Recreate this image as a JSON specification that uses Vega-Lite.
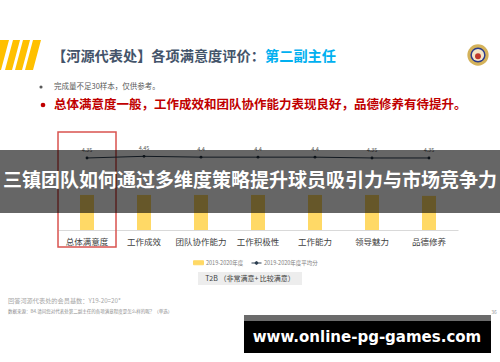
{
  "$schema": "https://vega.github.io/schema/vega-lite/v6.json",
  "width": 400,
  "height": 100,
  "autosize": {"type": "none"},
  "padding": {"left": 58, "top": 130, "right": 42, "bottom": 132},
  "background": "white",
  "config": {"view": {"stroke": null}, "font": "Noto Sans CJK SC", "text": {"font": "Noto Sans CJK SC"}, "axisY": {"disable": true}},
  "datasets": {
    "scores": [
      {"category": "总体满意度", "t2b": 0.75, "avg": 4.35},
      {"category": "工作成效", "t2b": 0.75, "avg": 4.45},
      {"category": "团队协作能力", "t2b": 0.75, "avg": 4.4},
      {"category": "工作积极性", "t2b": 0.75, "avg": 4.4},
      {"category": "工作能力", "t2b": 0.75, "avg": 4.4},
      {"category": "领导魅力", "t2b": 0.75, "avg": 4.35},
      {"category": "品德修养", "t2b": 0.73, "avg": 4.35}
    ]
  },
  "resolve": {"scale": {"y": "independent"}},
  "layer": [
    {
      "layer": [
        {
          "data": {"name": "scores"},
          "mark": {"type": "bar"},
          "encoding": {
            "x": {
              "field": "category", "type": "nominal", "sort": null,
              "scale": {"paddingInner": 0.754, "paddingOuter": 0.386},
              "axis": {"title": null, "labelFontSize": 8.5, "labelColor": "#404040", "labelPadding": 7, "ticks": false, "domainColor": "#d9d9d9", "labelAngle": 0, "labelFont": "Noto Sans CJK SC"}
            },
            "y": {"field": "t2b", "type": "quantitative", "scale": {"domain": [0, 2.14], "nice": false, "zero": false}, "axis": null},
            "color": {
              "datum": "2019-2020年度",
              "scale": {"domain": ["2019-2020年度", "2019-2020年度平均分"], "range": ["#ffd966", "#2c3e50"]},
              "legend": {
                "orient": "none", "legendX": 135, "legendY": 127, "direction": "horizontal", "title": null,
                "labelFontSize": 5.5, "labelColor": "#808080", "labelFont": "Noto Sans CJK SC", "symbolSize": 100, "columnPadding": 5, "labelOffset": 2,
                "encode": {"symbols": {"update": {
                  "shape": {"signal": "datum.value === '2019-2020年度' ? 'M-1,-0.4H1V0.4H-1Z' : 'M-1,0H1M-0.28,0A0.28,0.28,0,1,0,0.28,0A0.28,0.28,0,1,0,-0.28,0Z'"},
                  "fill": {"signal": "datum.value === '2019-2020年度' ? '#ffd966' : '#2c3e50'"},
                  "stroke": {"signal": "datum.value === '2019-2020年度' ? 'transparent' : '#2c3e50'"},
                  "strokeWidth": {"value": 1},
                  "opacity": {"value": 1},
                  "fillOpacity": {"value": 1},
                  "strokeOpacity": {"value": 1}
                }}}
              }
            }
          }
        },
        {
          "data": {"values": [{"category": "总体满意度"}]},
          "mark": {"type": "bar", "width": 58, "fill": "transparent", "stroke": "#d9534f", "strokeWidth": 1.5},
          "encoding": {
            "x": {"field": "category", "type": "nominal", "sort": null},
            "y": {"datum": 2.097},
            "y2": {"datum": -0.364}
          }
        }
      ]
    },
    {
      "data": {"name": "scores"},
      "encoding": {
        "x": {"field": "category", "type": "nominal", "sort": null},
        "y": {"field": "avg", "type": "quantitative", "scale": {"domain": [0, 6.04], "nice": false, "zero": false}, "axis": null}
      },
      "layer": [
        {"mark": {"type": "line", "strokeWidth": 1}, "encoding": {"color": {"datum": "2019-2020年度平均分"}}},
        {"mark": {"type": "point", "filled": true, "size": 8, "color": "#1f2d3d", "opacity": 1}},
        {"mark": {"type": "text", "dy": -8, "fontSize": 5.5, "color": "#595959"}, "encoding": {"text": {"field": "avg", "type": "quantitative", "format": ".2~f"}}}
      ]
    },
    {
      "layer": [
        {
          "data": {"values": [{"label": "stripes"}]},
          "mark": {"type": "point", "filled": true, "opacity": 1, "color": "#ffc000", "size": 1600, "xOffset": -67,
            "shape": "M-1,-0.75L-0.55,-0.75L-0.95,0.75L-1,0.75ZM-0.35,-0.75L0,-0.75L-0.4,0.75L-0.75,0.75ZM0.15,-0.75L0.5,-0.75L0.1,0.75L-0.25,0.75ZM0.65,-0.75L1.05,-0.75L0.65,0.75L0.25,0.75Z"},
          "encoding": {"x": {"datum": "总体满意度"}, "y": {"datum": 3.745, "scale": {"domain": [0, 2.14], "nice": false, "zero": false}, "axis": null}}
        },
        {
          "data": {"values": [{"label": "【河源代表处】各项满意度评价："}]},
          "mark": {"type": "text", "align": "left", "dx": -35, "fontSize": 14.2, "fontWeight": "bold", "color": "#44546a"},
          "encoding": {"x": {"datum": "总体满意度"}, "y": {"datum": 3.702}, "text": {"field": "label"}}
        },
        {
          "data": {"values": [{"label": "第二副主任"}]},
          "mark": {"type": "text", "align": "left", "dx": 178, "fontSize": 14.2, "fontWeight": "bold", "color": "#00b0f0"},
          "encoding": {"x": {"datum": "总体满意度"}, "y": {"datum": 3.702}, "text": {"field": "label"}}
        },
        {
          "data": {"values": [{"part": "outer"}]},
          "mark": {"type": "point", "filled": true, "opacity": 1, "color": "#d4b25a", "size": 452, "xOffset": 49},
          "encoding": {"x": {"datum": "品德修养"}, "y": {"datum": 3.745}}
        },
        {
          "data": {"values": [{"part": "ring"}]},
          "mark": {"type": "point", "filled": true, "opacity": 1, "color": "#2a3a8c", "size": 230, "xOffset": 49},
          "encoding": {"x": {"datum": "品德修养"}, "y": {"datum": 3.745}}
        },
        {
          "data": {"values": [{"part": "inner"}]},
          "mark": {"type": "point", "filled": true, "opacity": 1, "color": "#f3e6c8", "size": 150, "xOffset": 49},
          "encoding": {"x": {"datum": "品德修养"}, "y": {"datum": 3.745}}
        },
        {
          "data": {"values": [{"part": "center"}]},
          "mark": {"type": "point", "filled": true, "opacity": 1, "color": "#c0392b", "size": 35, "xOffset": 49},
          "encoding": {"x": {"datum": "品德修养"}, "y": {"datum": 3.72}}
        },
        {
          "data": {"values": [{"part": "gray bullet"}]},
          "mark": {"type": "point", "filled": true, "opacity": 1, "color": "#595959", "size": 10, "xOffset": -46},
          "encoding": {"x": {"datum": "总体满意度"}, "y": {"datum": 3.06}}
        },
        {
          "data": {"values": [{"label": "完成量不足30样本，仅供参考。"}]},
          "mark": {"type": "text", "align": "left", "dx": -33, "fontSize": 7.5, "color": "#595959"},
          "encoding": {"x": {"datum": "总体满意度"}, "y": {"datum": 3.06}, "text": {"field": "label"}}
        },
        {
          "data": {"values": [{"part": "red bullet"}]},
          "mark": {"type": "point", "filled": true, "opacity": 1, "color": "#c00000", "size": 22, "xOffset": -44},
          "encoding": {"x": {"datum": "总体满意度"}, "y": {"datum": 2.675}}
        },
        {
          "data": {"values": [{"label": "总体满意度一般，工作成效和团队协作能力表现良好，品德修养有待提升。"}]},
          "mark": {"type": "text", "align": "left", "dx": -33, "fontSize": 12.5, "fontWeight": "bold", "color": "#c00000"},
          "encoding": {"x": {"datum": "总体满意度"}, "y": {"datum": 2.675}, "text": {"field": "label"}}
        },
        {
          "data": {"values": [{"part": "banner"}]},
          "mark": {"type": "bar", "width": 500, "xOffset": -8, "color": "black", "opacity": 0.6},
          "encoding": {"x": {"datum": "工作积极性"}, "y": {"datum": 1.712}, "y2": {"datum": 0.3638}}
        },
        {
          "data": {"values": [{"label": "三镇团队如何通过多维度策略提升球员吸引力与市场竞争力"}]},
          "mark": {"type": "text", "dx": -8, "fontSize": 19, "fontWeight": "bold", "color": "white"},
          "encoding": {"x": {"datum": "工作积极性"}, "y": {"datum": 1.0486}, "text": {"field": "label"}}
        },
        {
          "data": {"values": [{"part": "t2b box"}]},
          "mark": {"type": "bar", "width": 104, "xOffset": -8, "color": "#ededed"},
          "encoding": {"x": {"datum": "工作积极性"}, "y": {"datum": -0.8988}, "y2": {"datum": -1.177}}
        },
        {
          "data": {"values": [{"label": "T2B （非常满意+ 比较满意）"}]},
          "mark": {"type": "text", "dx": -8, "fontSize": 7, "color": "#404040"},
          "encoding": {"x": {"datum": "工作积极性"}, "y": {"datum": -1.0379}, "text": {"field": "label"}}
        },
        {
          "data": {"values": [{"label": "回答河源代表处的会员基数：Y19-20=20*"}]},
          "mark": {"type": "text", "align": "left", "dx": -79, "fontSize": 6.2, "color": "#a6a6a6"},
          "encoding": {"x": {"datum": "总体满意度"}, "y": {"datum": -1.519}, "text": {"field": "label"}}
        },
        {
          "data": {"values": [{"label": "数据来源：B4.请问您对代表处第二副主任的各项满意程度是怎么样的呢？（单选）"}]},
          "mark": {"type": "text", "align": "left", "dx": -79, "fontSize": 4.5, "color": "#8c8c8c"},
          "encoding": {"x": {"datum": "总体满意度"}, "y": {"datum": -1.755}, "text": {"field": "label"}}
        },
        {
          "data": {"values": [{"label": "36"}]},
          "mark": {"type": "text", "dx": 65, "fontSize": 5, "color": "#999999"},
          "encoding": {"x": {"datum": "品德修养"}, "y": {"datum": -1.755}, "text": {"field": "label"}}
        },
        {
          "data": {"values": [{"part": "watermark strip"}]},
          "mark": {"type": "bar", "width": 247, "xOffset": -4.5, "color": "#6b6b6b"},
          "encoding": {"x": {"datum": "领导魅力"}, "y": {"datum": -1.819}, "y2": {"datum": -1.9474}}
        },
        {
          "data": {"values": [{"part": "watermark box"}]},
          "mark": {"type": "bar", "width": 247, "xOffset": -4.5, "color": "black"},
          "encoding": {"x": {"datum": "领导魅力"}, "y": {"datum": -1.9474}, "y2": {"datum": -2.632}}
        },
        {
          "data": {"values": [{"label": "www.online-pg-games.com"}]},
          "mark": {"type": "text", "dx": -5, "fontSize": 15, "fontWeight": "bold", "color": "white", "font": "DejaVu Sans"},
          "encoding": {"x": {"datum": "领导魅力"}, "y": {"datum": -2.29}, "text": {"field": "label"}}
        }
      ]
    }
  ]
}
